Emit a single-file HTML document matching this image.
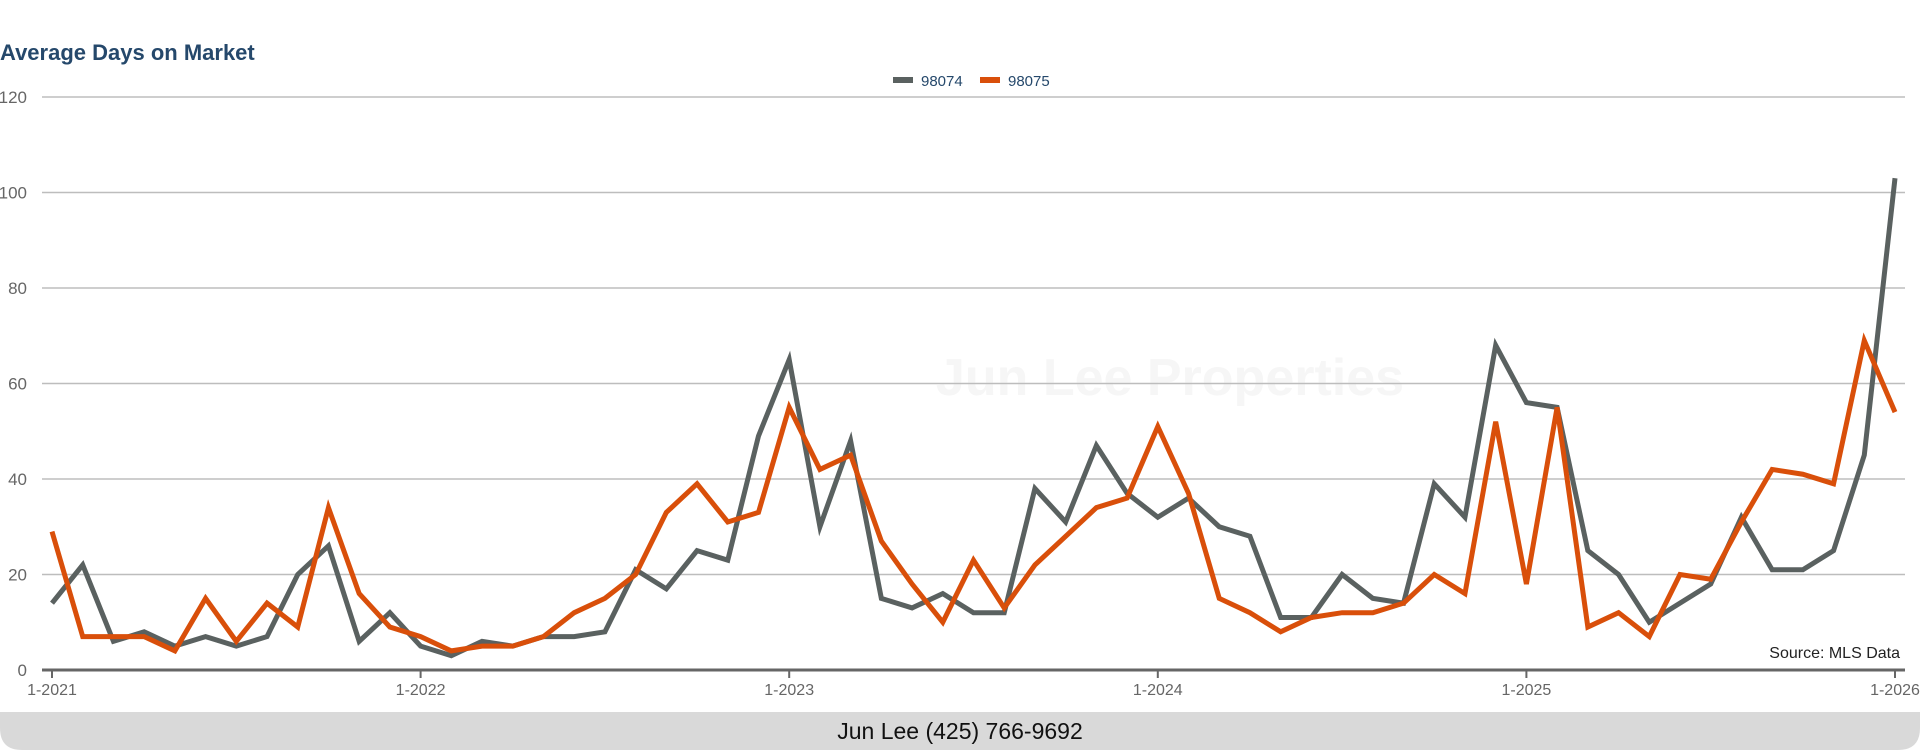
<!DOCTYPE html>
<html><head><meta charset="utf-8"><style>
body{margin:0;width:1920px;height:750px;overflow:hidden;background:#fff;font-family:"Liberation Sans",sans-serif;}
</style></head><body>
<svg width="1920" height="750">
<text x="0" y="60" font-size="22" font-weight="bold" fill="#25486b">Average Days on Market</text>
<text x="1170" y="395" font-size="52" font-weight="bold" fill="#f6f6f6" text-anchor="middle">Jun Lee Properties</text>
<g id="grid"></g><g id="xaxis"></g><g id="series"></g>
<g>
<rect x="893" y="77" width="20" height="6" fill="#5a6160"/>
<text x="921" y="86" font-size="15" fill="#25486b">98074</text>
<rect x="980" y="77" width="20" height="6" fill="#d94f0a"/>
<text x="1008" y="86" font-size="15" fill="#25486b">98075</text>
</g>
<text x="1900" y="658" font-size="16" fill="#222" text-anchor="end">Source: MLS Data</text>
<path d="M0,712 H1920 V728 Q1920,750 1898,750 H22 Q0,750 0,728 Z" fill="#d9d9d9"/>
<text x="960" y="739" font-size="23" fill="#111" text-anchor="middle">Jun Lee (425) 766-9692</text>
</svg>
<script>
const yTicks=[0,20,40,60,80,100,120];
const xTickLabels=["1-2021","1-2022","1-2023","1-2024","1-2025","1-2026"];
const s98074=[14,22,6,8,5,7,5,7,20,26,6,12,5,3,6,5,7,7,8,21,17,25,23,49,65,30,48,15,13,16,12,12,38,31,47,37,32,36,30,28,11,11,20,15,14,39,32,68,56,55,25,20,10,14,18,32,21,21,25,45,103];
const s98075=[29,7,7,7,4,15,6,14,9,34,16,9,7,4,5,5,7,12,15,20,33,39,31,33,55,42,45,27,18,10,23,13,22,28,34,36,51,37,15,12,8,11,12,12,14,20,16,52,18,55,9,12,7,20,19,31,42,41,39,69,54];
const NS="http://www.w3.org/2000/svg";
const X0=52,X1=1895,Y0=670,Y1=97;
const xs=i=>X0+(X1-X0)*i/60, ys=v=>Y0-(Y0-Y1)*v/120;
const grid=document.getElementById('grid'),xa=document.getElementById('xaxis'),ser=document.getElementById('series');
function mk(t,a,p){const e=document.createElementNS(NS,t);for(const k in a)e.setAttribute(k,a[k]);p.appendChild(e);return e;}
yTicks.forEach(v=>{
 if(v>0){const l=mk('line',{x1:42,x2:1905,y1:ys(v),y2:ys(v),stroke:'#bdbdbd','stroke-width':1.5},grid);
 
 }
 const t=mk('text',{x:27,y:ys(v)+6,'font-size':17,fill:'#666','text-anchor':'end'},grid);t.textContent=v;
 
 
});
const ax=mk('line',{x1:42,x2:1905,y1:Y0,y2:Y0,stroke:'#666','stroke-width':3},xa);


xTickLabels.forEach((s,k)=>{
 const x=xs(k*12);
 mk('line',{x1:x,x2:x,y1:Y0,y2:Y0+8,stroke:'#666','stroke-width':2},xa);
 const t=mk('text',{x:x,y:695,'font-size':16,fill:'#666','text-anchor':'middle'},xa);t.textContent=s;
 
 
});
function line(d,c,n){const p=mk('polyline',{points:d.map((v,i)=>xs(i)+','+ys(v)).join(' '),fill:'none',stroke:c,'stroke-width':5,'stroke-linejoin':'miter'},ser);
 
 }
line(s98074,'#5a6160','series-98074');
line(s98075,'#d94f0a','series-98075');
</script>
</body></html>
